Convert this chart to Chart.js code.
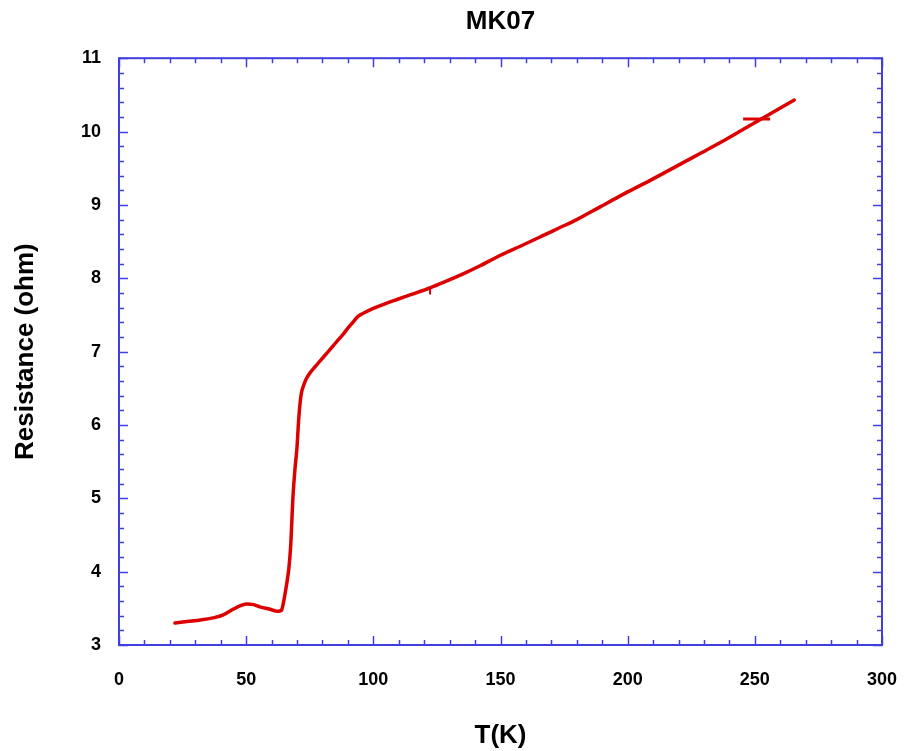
<!DOCTYPE html>
<html>
<head>
<meta charset="utf-8">
<title>MK07</title>
<script src="https://cdn.jsdelivr.net/npm/chart.js@4.4.1/dist/chart.umd.min.js"></script>
<style>
  html, body { margin: 0; padding: 0; background: #ffffff; }
  #wrap { width: 904px; height: 751px; }
</style>
</head>
<body>
<div id="wrap"><canvas id="chart" width="904" height="751"></canvas></div>
<script>
// Resistance vs. temperature for sample MK07
const temperatureK = [
  22, 26.7, 32, 37, 41, 45, 48, 50.3, 53, 55.4, 59, 62.5, 63.8, 64.5, 65.3, 66,
  66.8, 67.5, 68.4, 69.2, 70, 70.6, 71.2, 71.8, 72.4, 73.5, 75.1, 77, 79, 81, 83,
  85.7, 88, 90, 92, 94, 97, 100, 104.5, 109.3, 115, 122.3, 128, 135.3, 142, 149.8,
  158, 166, 173, 180, 189, 198, 207, 214, 222, 229, 237.5, 245, 252, 259, 265.5
];
const resistanceOhm = [
  3.30, 3.32, 3.34, 3.37, 3.41, 3.49, 3.54, 3.56, 3.55, 3.52, 3.49, 3.46, 3.47, 3.55, 3.70, 3.85,
  4.05, 4.35, 5.02, 5.40, 5.70, 6.05, 6.30, 6.45, 6.52, 6.62, 6.71, 6.79, 6.87, 6.95, 7.03,
  7.14, 7.23, 7.32, 7.40, 7.48, 7.54, 7.59, 7.65, 7.71, 7.78, 7.87, 7.95, 8.06, 8.17, 8.31,
  8.44, 8.57, 8.685, 8.80, 8.97, 9.14, 9.30, 9.43, 9.58, 9.71, 9.87, 10.02, 10.16, 10.30, 10.43
];
// short stray strokes in the record
const strayHorizT = [245.4, 256];
const strayHorizR = [10.17, 10.17];
const strayVertT = [122.3, 122.3];
const strayVertR = [7.87, 7.79];

const xRange = [0, 300];
const yRange = [3, 11];

const toPoints = (xs, ys) => xs.map((x, i) => ({ x: x, y: ys[i] }));

const FONT = "'Liberation Sans', Arial, Helvetica, sans-serif";
const FRAME_COLOR = 'rgb(64, 64, 226)';
const LINE_COLOR = '#dd0000';

// Boxed frame with inward major/minor ticks on all four sides
const frameTicks = {
  id: 'frameTicks',
  beforeDatasetsDraw(chart) {
    const { ctx, chartArea: a, scales: { x, y } } = chart;
    ctx.save();
    ctx.strokeStyle = FRAME_COLOR;
    ctx.lineWidth = 2;
    ctx.strokeRect(a.left, a.top, a.right - a.left, a.bottom - a.top);
    ctx.lineWidth = 1.5;
    const major = 9, minor = 5;
    const xStepMinor = 10, xStepMajor = 50;
    for (let v = xRange[0]; v <= xRange[1] + 1e-9; v += xStepMinor) {
      const px = Math.round(x.getPixelForValue(v)) + 0.5;
      const len = (Math.abs(v % xStepMajor) < 1e-6) ? major : minor;
      ctx.beginPath();
      ctx.moveTo(px, a.bottom); ctx.lineTo(px, a.bottom - len);
      ctx.moveTo(px, a.top); ctx.lineTo(px, a.top + len);
      ctx.stroke();
    }
    const yStepMinor = 0.2;
    const nY = Math.round((yRange[1] - yRange[0]) / yStepMinor);
    for (let i = 0; i <= nY; i++) {
      const v = yRange[0] + i * yStepMinor;
      const py = Math.round(y.getPixelForValue(v)) + 0.5;
      const len = (i % 5 === 0) ? major : minor;
      ctx.beginPath();
      ctx.moveTo(a.left, py); ctx.lineTo(a.left + len, py);
      ctx.moveTo(a.right, py); ctx.lineTo(a.right - len, py);
      ctx.stroke();
    }
    ctx.restore();
  }
};

const lineStyle = {
  borderColor: LINE_COLOR,
  backgroundColor: LINE_COLOR,
  borderWidth: 3.5,
  pointRadius: 0,
  fill: false,
  borderCapStyle: 'round',
  borderJoinStyle: 'round'
};

new Chart(document.getElementById('chart'), {
  type: 'line',
  data: {
    datasets: [
      Object.assign({ label: 'R(T)', data: toPoints(temperatureK, resistanceOhm), cubicInterpolationMode: 'monotone' }, lineStyle),
      Object.assign({ label: 'stray-h', data: toPoints(strayHorizT, strayHorizR) }, lineStyle, { borderWidth: 3, borderCapStyle: 'butt' }),
      Object.assign({ label: 'stray-v', data: toPoints(strayVertT, strayVertR) }, lineStyle, { borderWidth: 2, borderCapStyle: 'butt' })
    ]
  },
  options: {
    responsive: false,
    animation: false,
    parsing: true,
    layout: { padding: { top: 0, right: 22, bottom: 0, left: 0 } },
    plugins: {
      legend: { display: false },
      tooltip: { enabled: false },
      title: {
        display: true,
        text: 'MK07',
        fullSize: false,
        color: '#000000',
        font: { family: FONT, size: 26, weight: 'bold' },
        padding: { top: 6, bottom: 21 }
      }
    },
    scales: {
      x: {
        type: 'linear',
        min: xRange[0],
        max: xRange[1],
        grid: { display: false, drawTicks: false },
        border: { display: false },
        ticks: {
          stepSize: 50,
          color: '#000000',
          padding: 24,
          maxRotation: 0,
          font: { family: FONT, size: 18, weight: 'bold' }
        },
        title: {
          display: true,
          text: 'T(K)',
          color: '#000000',
          font: { family: FONT, size: 26, weight: 'bold' },
          padding: { top: 0, bottom: 0 }
        },
        afterFit(scale) {
          scale.height = 106;
          scale.paddingLeft = 0;
          scale.paddingRight = 0;
        }
      },
      y: {
        type: 'linear',
        min: yRange[0],
        max: yRange[1],
        grid: { display: false, drawTicks: false },
        border: { display: false },
        ticks: {
          stepSize: 1,
          color: '#000000',
          padding: 18,
          font: { family: FONT, size: 18, weight: 'bold' }
        },
        title: {
          display: true,
          text: 'Resistance (ohm)',
          color: '#000000',
          font: { family: FONT, size: 26, weight: 'bold' },
          padding: { top: 10, bottom: 0 }
        },
        afterFit(scale) { scale.width = 119; }
      }
    }
  },
  plugins: [frameTicks]
});
</script>
</body>
</html>
